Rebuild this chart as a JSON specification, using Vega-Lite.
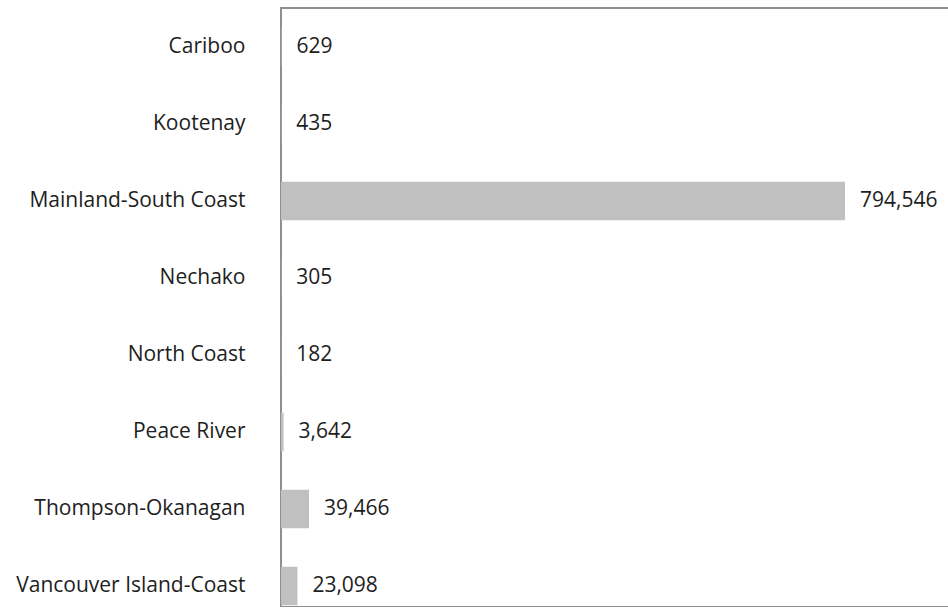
{
  "$schema": "https://vega.github.io/schema/vega-lite/v6.json",
  "autosize": {"type": "none"},
  "padding": {"left": 281, "top": 8, "right": 0, "bottom": 0},
  "width": 680,
  "height": 599,
  "background": "white",
  "config": {
    "view": {"stroke": "#8f8f8f", "strokeWidth": 2},
    "font": "Open Sans"
  },
  "data": {
    "values": [
      {"region": "Cariboo", "value": 629},
      {"region": "Kootenay", "value": 435},
      {"region": "Mainland-South Coast", "value": 794546},
      {"region": "Nechako", "value": 305},
      {"region": "North Coast", "value": 182},
      {"region": "Peace River", "value": 3642},
      {"region": "Thompson-Okanagan", "value": 39466},
      {"region": "Vancouver Island-Coast", "value": 23098}
    ]
  },
  "encoding": {
    "y": {
      "field": "region",
      "type": "nominal",
      "sort": null,
      "scale": {"paddingInner": 0.5, "paddingOuter": 0.14, "align": 0.92},
      "axis": {
        "title": null,
        "ticks": false,
        "domain": false,
        "labelPadding": 36,
        "labelLimit": 300,
        "labelFont": "Open Sans",
        "labelFontSize": 21,
        "labelColor": "#1e1e1e",
        "grid": false
      }
    },
    "x": {
      "field": "value",
      "type": "quantitative",
      "scale": {"domain": [0, 958000], "nice": false},
      "axis": null
    }
  },
  "layer": [
    {
      "mark": {"type": "bar", "color": "#c0c0c0"}
    },
    {
      "mark": {"type": "text", "align": "left", "baseline": "middle", "dx": 15, "font": "Open Sans", "fontSize": 21, "color": "#1e1e1e"},
      "encoding": {
        "text": {"field": "value", "type": "quantitative", "format": ","}
      }
    }
  ]
}
